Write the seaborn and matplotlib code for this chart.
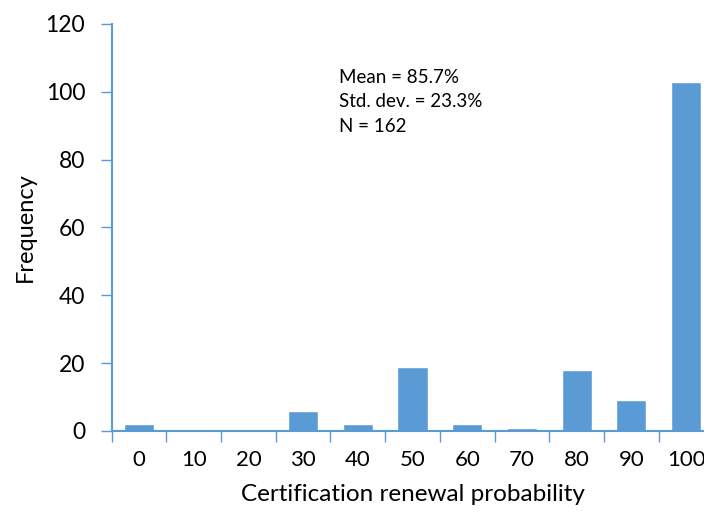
import numpy as np
import pandas as pd
import seaborn as sns
import matplotlib
matplotlib.use("Agg")
import matplotlib.pyplot as plt
from matplotlib.ticker import FixedLocator

# ------ Data ------
bins = ["0", "10", "20", "30", "40", "50", "60", "70", "80", "90", "100"]
freq = [2, 0, 0, 6, 2, 19, 2, 1, 18, 9, 103]
stats_lines = ["Mean = 85.7%", "Std. dev. = 23.3%", "N = 162"]

df = pd.DataFrame({"bin": bins, "freq": freq})

sns.set_style("white")
plt.rcParams['font.family'] = ['Lato', 'DejaVu Sans']
plt.rcParams['text.color'] = 'black'
plt.rcParams['axes.labelcolor'] = 'black'
plt.rcParams['xtick.labelcolor'] = 'black'
plt.rcParams['ytick.labelcolor'] = 'black'

blue = "#5B9BD5"

fig = plt.figure(figsize=(7.04, 5.18), dpi=100)
ax = fig.add_axes([0.1585, 0.168, 0.855, 0.786])

sns.barplot(data=df, x="bin", y="freq", order=bins, color=blue, width=0.55,
            saturation=1, ax=ax)

ax.set_xlim(-0.5, len(bins) - 0.5)
ax.set_ylim(0, 120)
ax.set_yticks(np.arange(0, 121, 20))

ax.set_xlabel("Certification renewal probability", fontsize=17.5, labelpad=10)
ax.set_ylabel("Frequency", fontsize=17, labelpad=7)

for s in ["top", "right"]:
    ax.spines[s].set_visible(False)
for s in ["left", "bottom"]:
    ax.spines[s].set_color(blue)
    ax.spines[s].set_linewidth(1.5)

# tick marks between categories on x, labels centred under bars
ax.xaxis.set_major_locator(FixedLocator(np.arange(len(bins))))
ax.xaxis.set_minor_locator(FixedLocator(np.arange(-0.5, len(bins), 1)))
ax.tick_params(axis="x", which="both", bottom=True)
ax.tick_params(axis="x", which="major", length=0, labelsize=16, pad=14)
ax.tick_params(axis="x", which="minor", length=8, width=1, color=blue, direction="out")
ax.tick_params(axis="y", left=True, length=8, width=1, color=blue, direction="out", labelsize=16.5, pad=11)

ax.text(0.378, 0.89, "\n".join(stats_lines), transform=ax.transAxes, fontsize=13.5,
        va="top", ha="left", linespacing=1.55)

fig.savefig("out.png", dpi=100)
